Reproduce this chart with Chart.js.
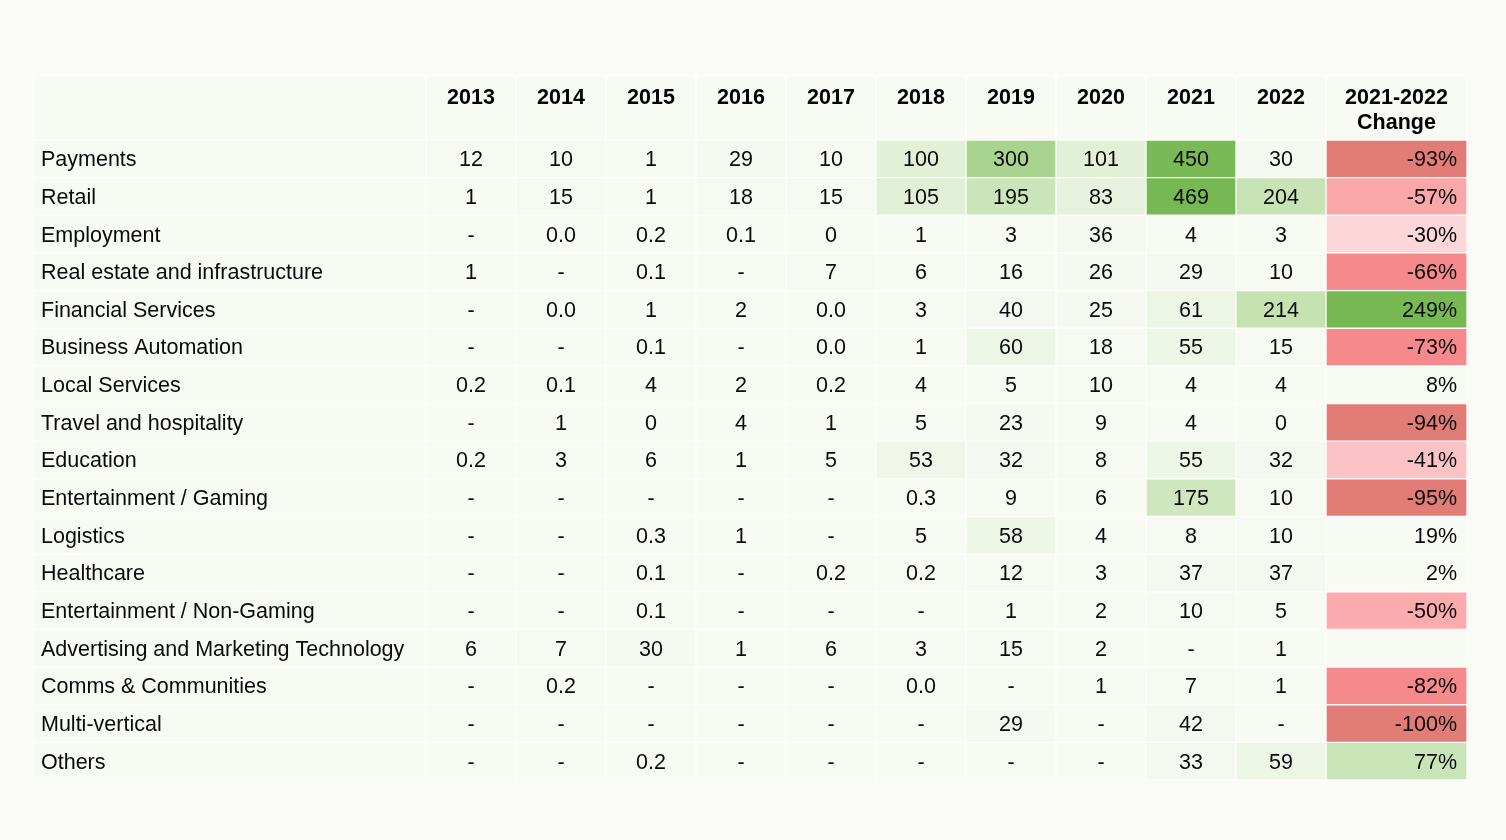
<!DOCTYPE html>
<html>
<head>
<meta charset="utf-8">
<title>Funding by vertical</title>
<script src="https://cdn.jsdelivr.net/npm/chart.js@4.4.1/dist/chart.umd.min.js"></script>
<style>
  html, body { margin: 0; padding: 0; background: #fafbf7; }
  #wrap { width: 1506px; height: 840px; }
</style>
</head>
<body>
<div id="wrap"><canvas id="table" width="1506" height="840"></canvas></div>
<script>
// ---- data ----
var categories = ['Payments', 'Retail', 'Employment', 'Real estate and infrastructure',
  'Financial Services', 'Business Automation', 'Local Services', 'Travel and hospitality',
  'Education', 'Entertainment / Gaming', 'Logistics', 'Healthcare',
  'Entertainment / Non-Gaming', 'Advertising and Marketing Technology',
  'Comms & Communities', 'Multi-vertical', 'Others'];
var years = ['2013', '2014', '2015', '2016', '2017', '2018', '2019', '2020', '2021', '2022'];
var changeHeader = ['2021-2022', 'Change'];

// null = '-', 0.01 = shown as 0.0 (below 0.05)
var v2013 = [12, 1, null, 1, null, null, 0.2, null, 0.2, null, null, null, null, 6, null, null, null];
var v2014 = [10, 15, 0.01, null, 0.01, null, 0.1, 1, 3, null, null, null, null, 7, 0.2, null, null];
var v2015 = [1, 1, 0.2, 0.1, 1, 0.1, 4, 0, 6, null, 0.3, 0.1, 0.1, 30, null, null, 0.2];
var v2016 = [29, 18, 0.1, null, 2, null, 2, 4, 1, null, 1, null, null, 1, null, null, null];
var v2017 = [10, 15, 0, 7, 0.01, 0.01, 0.2, 1, 5, null, null, 0.2, null, 6, null, null, null];
var v2018 = [100, 105, 1, 6, 3, 1, 4, 5, 53, 0.3, 5, 0.2, null, 3, 0.01, null, null];
var v2019 = [300, 195, 3, 16, 40, 60, 5, 23, 32, 9, 58, 12, 1, 15, null, 29, null];
var v2020 = [101, 83, 36, 26, 25, 18, 10, 9, 8, 6, 4, 3, 2, 2, 1, null, null];
var v2021 = [450, 469, 4, 29, 61, 55, 4, 4, 55, 175, 8, 37, 10, null, 7, 42, 33];
var v2022 = [30, 204, 3, 10, 214, 15, 4, 0, 32, 10, 10, 37, 5, 1, 1, null, 59];
var change = [-93, -57, -30, -66, 249, -73, 8, -94, -41, -95, 19, 2, -50, null, -82, -100, 77];

var yearSeries = [v2013, v2014, v2015, v2016, v2017, v2018, v2019, v2020, v2021, v2022];

// ---- layout / style ----
var colWidths = [393, 90, 90, 90, 90, 90, 90, 90, 90, 90, 90, 141];
var edges = [0];
colWidths.forEach(function(w) { edges.push(edges[edges.length - 1] + w); });

var baseColor = '#f8faf4';
var lineColor = '#fdfefb';
var font = '"Liberation Sans", Helvetica, Arial, sans-serif';

var greenStops = [[0, baseColor], [48, '#f4f6f0'], [55, '#eef6e8'], [100, '#e2f0d8'],
  [200, '#c9e4b7'], [300, '#a9d48f'], [460, '#76b852']];
var posStops = [[0, baseColor], [20, baseColor], [77, '#c9e4b7'], [249, '#76b852']];
var negStops = [[0, baseColor], [30, '#fdd6d9'], [41, '#fcc3c6'], [50, '#fbaaad'], [57, '#faa7a9'],
  [66, '#f5898c'], [82, '#f5898c'], [93, '#e17c76'], [100, '#e17c76']];

function hexToRgb(h) {
  return [parseInt(h.substr(1, 2), 16), parseInt(h.substr(3, 2), 16), parseInt(h.substr(5, 2), 16)];
}

function ramp(stops, v) {
  if (v <= stops[0][0]) return stops[0][1];
  for (var i = 1; i < stops.length; i++) {
    if (v <= stops[i][0]) {
      var a = hexToRgb(stops[i - 1][1]), b = hexToRgb(stops[i][1]);
      var t = (v - stops[i - 1][0]) / (stops[i][0] - stops[i - 1][0]);
      return 'rgb(' + a.map(function(c, k) { return Math.round(c + (b[k] - c) * t); }).join(',') + ')';
    }
  }
  return stops[stops.length - 1][1];
}

function fmt(v) {
  if (v === null) return '-';
  if (v === 0) return '0';
  if (v < 1) return v.toFixed(1);
  return String(Math.round(v));
}

// ---- datasets: one per column, each cell is a floating bar ----
function span(c) {
  return categories.map(function() { return [edges[c], edges[c + 1]]; });
}

var barStyle = {
  grouped: false,
  barPercentage: 1,
  categoryPercentage: 1,
  borderWidth: 1,
  borderColor: lineColor,
  borderSkipped: false
};

var datasets = [];
datasets.push(Object.assign({
  label: 'Vertical',
  data: span(0),
  backgroundColor: baseColor,
  cellText: categories,
  textAlign: 'left'
}, barStyle));

yearSeries.forEach(function(series, j) {
  datasets.push(Object.assign({
    label: years[j],
    data: span(j + 1),
    backgroundColor: series.map(function(v) { return v === null ? baseColor : ramp(greenStops, v); }),
    cellText: series.map(fmt),
    textAlign: 'center'
  }, barStyle));
});

datasets.push(Object.assign({
  label: changeHeader.join(' '),
  data: span(11),
  backgroundColor: change.map(function(v) {
    if (v === null) return baseColor;
    return v < 0 ? ramp(negStops, -v) : ramp(posStops, v);
  }),
  cellText: change.map(function(v) { return v === null ? '' : v + '%'; }),
  textAlign: 'right'
}, barStyle));

// header row and cell texts
var tablePlugin = {
  id: 'tableText',
  beforeDatasetsDraw: function(chart) {
    var ctx = chart.ctx, x = chart.scales.x, top = 75, bottom = chart.chartArea.top;
    ctx.save();
    for (var c = 0; c < colWidths.length; c++) {
      var l = x.getPixelForValue(edges[c]), r = x.getPixelForValue(edges[c + 1]);
      ctx.fillStyle = lineColor;
      ctx.fillRect(l, top, r - l, bottom - top);
      ctx.fillStyle = baseColor;
      ctx.fillRect(l + 1, top + 1, r - l - 2, bottom - top - 2);
    }
    ctx.fillStyle = '#000';
    ctx.font = 'bold 21.5px ' + font;
    ctx.textAlign = 'center';
    ctx.textBaseline = 'middle';
    years.forEach(function(y, j) {
      var cx = (x.getPixelForValue(edges[j + 1]) + x.getPixelForValue(edges[j + 2])) / 2;
      ctx.fillText(y, cx, 98);
    });
    var cc = (x.getPixelForValue(edges[11]) + x.getPixelForValue(edges[12])) / 2;
    ctx.fillText(changeHeader[0], cc, 98);
    ctx.fillText(changeHeader[1], cc, 123);
    ctx.restore();
  },
  afterDatasetsDraw: function(chart) {
    var ctx = chart.ctx;
    ctx.save();
    ctx.fillStyle = '#0a0a0a';
    ctx.font = '21.5px ' + font;
    ctx.textBaseline = 'middle';
    chart.data.datasets.forEach(function(ds, i) {
      chart.getDatasetMeta(i).data.forEach(function(bar, r) {
        var p = bar.getProps(['x', 'base', 'y'], true);
        var l = Math.min(p.x, p.base), rr = Math.max(p.x, p.base);
        var tx = ds.textAlign === 'left' ? l + 8 : ds.textAlign === 'right' ? rr - 10 : (l + rr) / 2;
        ctx.textAlign = ds.textAlign;
        ctx.fillText(ds.cellText[r], tx, p.y + 1.5);
      });
    });
    ctx.restore();
  }
};

new Chart(document.getElementById('table'), {
  type: 'bar',
  data: { labels: categories, datasets: datasets },
  options: {
    responsive: false,
    animation: false,
    devicePixelRatio: 1,
    indexAxis: 'y',
    layout: { padding: { top: 140, bottom: 60, left: 33, right: 39 } },
    scales: {
      x: { type: 'linear', min: 0, max: edges[edges.length - 1], display: false },
      y: { display: false }
    },
    plugins: { legend: { display: false }, tooltip: { enabled: false } }
  },
  plugins: [tablePlugin]
});
</script>
</body>
</html>
